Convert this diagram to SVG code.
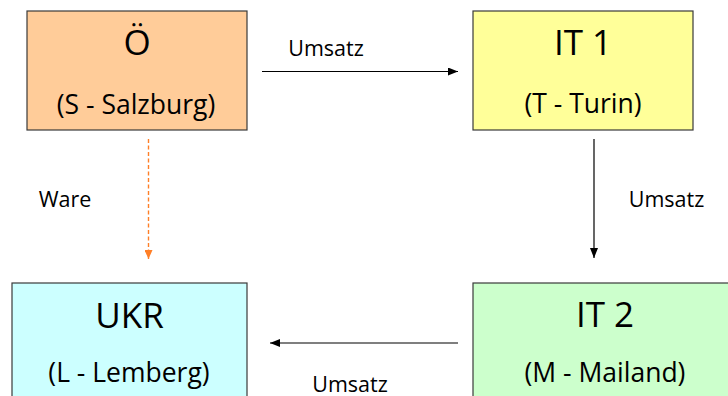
<svg xmlns="http://www.w3.org/2000/svg" width="728" height="396" viewBox="0 0 728 396">
  <defs>
    <style>
      .box { stroke: #3a3a3a; stroke-width: 1.2; }
      .title { font-family: "Open Sans", "Liberation Sans", sans-serif; font-size: 35px; fill: #000; text-anchor: middle; }
      .sub { font-family: "Open Sans", "Liberation Sans", sans-serif; font-size: 26.5px; fill: #000; text-anchor: middle; }
      .lbl { font-family: "Open Sans", "Liberation Sans", sans-serif; font-size: 21.5px; fill: #000; text-anchor: middle; }
      .conn { stroke: #000; stroke-width: 1.2; fill: none; }
      .ware { stroke: #FF7F27; stroke-width: 1.4; stroke-dasharray: 4 2.5; fill: none; }
    </style>
    <marker id="ah" markerWidth="10" markerHeight="8" refX="10" refY="4" orient="auto" markerUnits="userSpaceOnUse">
      <path d="M0,0 L10,4 L0,8 Z" fill="#000"/>
    </marker>
    <marker id="ahOrange" markerWidth="9" markerHeight="8" refX="9" refY="4" orient="auto" markerUnits="userSpaceOnUse">
      <path d="M0,0 L9,4 L0,8 Z" fill="#FF7F27"/>
    </marker>
  </defs>

  <rect width="728" height="396" fill="#ffffff"/>

  <g id="node-oe">
    <rect class="box" x="27" y="11" width="220" height="119" fill="#FFCC99"/>
    <text class="title" x="137" y="55">Ö</text>
    <text class="sub" x="136" y="114">(S - Salzburg)</text>
  </g>

  <g id="node-it1">
    <rect class="box" x="473" y="11" width="220" height="119" fill="#FFFF99"/>
    <text class="title" x="583" y="55">IT 1</text>
    <text class="sub" x="583" y="113">(T - Turin)</text>
  </g>

  <g id="node-ukr">
    <rect class="box" x="12" y="283" width="235" height="130" fill="#CCFFFF"/>
    <text class="title" x="129.5" y="328">UKR</text>
    <text class="sub" x="129" y="382">(L - Lemberg)</text>
  </g>

  <g id="node-it2">
    <rect class="box" x="473" y="283" width="270" height="130" fill="#CCFFCC"/>
    <text class="title" x="605" y="327">IT 2</text>
    <text class="sub" x="605" y="382">(M - Mailand)</text>
  </g>

  <g id="connectors">
    <line class="conn" x1="262" y1="71.5" x2="458" y2="71.5" marker-end="url(#ah)"/>
    <line class="conn" x1="594" y1="139" x2="594" y2="258" marker-end="url(#ah)"/>
    <line class="conn" x1="458" y1="343" x2="270" y2="343" marker-end="url(#ah)"/>
    <line class="ware" x1="148.5" y1="139" x2="148.5" y2="259" marker-end="url(#ahOrange)"/>
    <text class="lbl" x="326" y="56">Umsatz</text>
    <text class="lbl" x="666.5" y="207">Umsatz</text>
    <text class="lbl" x="350" y="392">Umsatz</text>
    <text class="lbl" x="65" y="207">Ware</text>
  </g>
</svg>
